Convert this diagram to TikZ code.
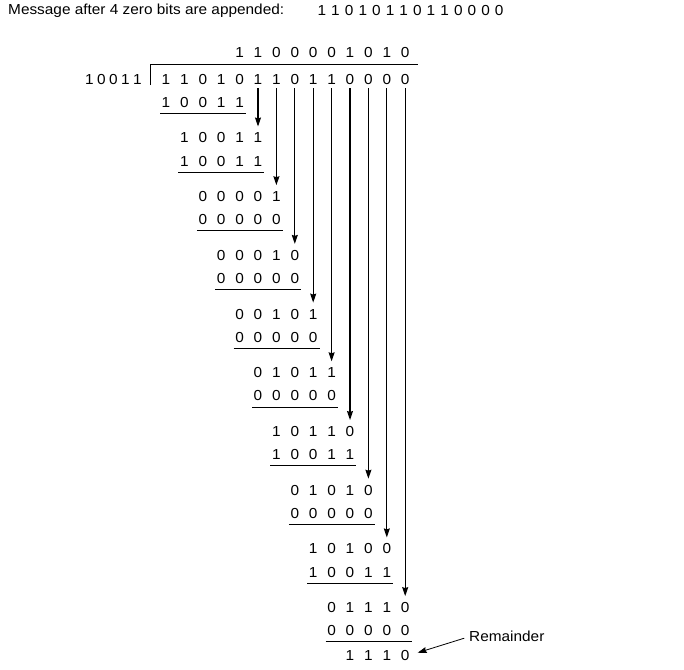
\documentclass[tikz,border=0pt]{standalone}
\usepackage{fontspec}
\setmainfont{Liberation Sans}[FakeStretch=1.06]
\usetikzlibrary{positioning, arrows.meta}

\begin{document}
\begin{tikzpicture}[
    x=1pt, y=-1pt,
    node distance=33pt,
    txt/.style={font=\fontsize{14.5}{17}\selectfont, inner sep=0pt},
    bit/.style={txt, anchor=center},
    rule/.style={line width=0.9pt},
    arrow/.style={-{Stealth[length=9pt, width=6pt, inset=1pt]}, line width=1.1pt}
]
    \useasboundingbox (0,0) rectangle (684,669);

    \node[txt, anchor=west] (title) at (8,10.5) {Message after 4 zero bits are appended:};
    \node[txt, right=of title] (msg) {\spaceskip=5.1pt\relax 1 1 0 1 0 1 1 0 1 1 0 0 0 0};

    \foreach \b [count=\i from 0] in {1,0,0,1,1}
        \node[bit] (v-\i) at ({89.3+12*\i},80) {\b};
    \foreach \b [count=\i from 0] in {1,1,0,1,0,1,1,0,1,1,0,0,0,0}
        \node[bit] (d-\i) at ({166+18.4*\i},80) {\b};
    \foreach \b [count=\i from 0] in {1,1,0,0,0,0,1,0,1,0}
        \node[bit] (q-\i) at ({166+18.4*(\i+4)},52.7) {\b};
    \draw[rule] (150,85) -- (150,64) -- (418,64);

    \foreach \k/\bits in {0/{1,0,0,1,1}, 1/{1,0,0,1,1}, 2/{0,0,0,0,0}, 3/{0,0,0,0,0}, 4/{0,0,0,0,0}, 5/{0,0,0,0,0}, 6/{1,0,0,1,1}, 7/{0,0,0,0,0}, 8/{1,0,0,1,1}, 9/{0,0,0,0,0}} {
        \foreach \b [count=\j from 0] in \bits
            \node[bit] (s\k-\j) at ({166+18.4*(\k+\j)},{102.5+58.7*\k}) {\b};
        \draw[rule] ({160+18.4*\k},{113.5+58.7*\k}) -- ++(86,0);
    }

    \foreach \k/\bits in {0/{1,0,0,1,1}, 1/{0,0,0,0,1}, 2/{0,0,0,1,0}, 3/{0,0,1,0,1}, 4/{0,1,0,1,1}, 5/{1,0,1,1,0}, 6/{0,1,0,1,0}, 7/{1,0,1,0,0}, 8/{0,1,1,1,0}} {
        \foreach \b [count=\j from 0] in \bits
            \node[bit] (m\k-\j) at ({166+18.4*(\k+1+\j)},{138+58.7*\k}) {\b};
        \pgfmathtruncatemacro\c{\k+5}
        \draw[arrow] ([yshift=-8pt]d-\c.center) -- ([yshift=11.5pt]m\k-4.center);
    }

    \foreach \b [count=\i from 0] in {1,1,1,0}
        \node[bit] (r-\i) at ({166+18.4*(\i+10)},655) {\b};
    \node[txt, anchor=west] (remlabel) at (469,636.7) {Remainder};
    \draw[arrow, line width=0.8pt, shorten <=5pt] (remlabel.west) -- ([xshift=8pt, yshift=2.3pt]r-3.east);
\end{tikzpicture}
\end{document}
